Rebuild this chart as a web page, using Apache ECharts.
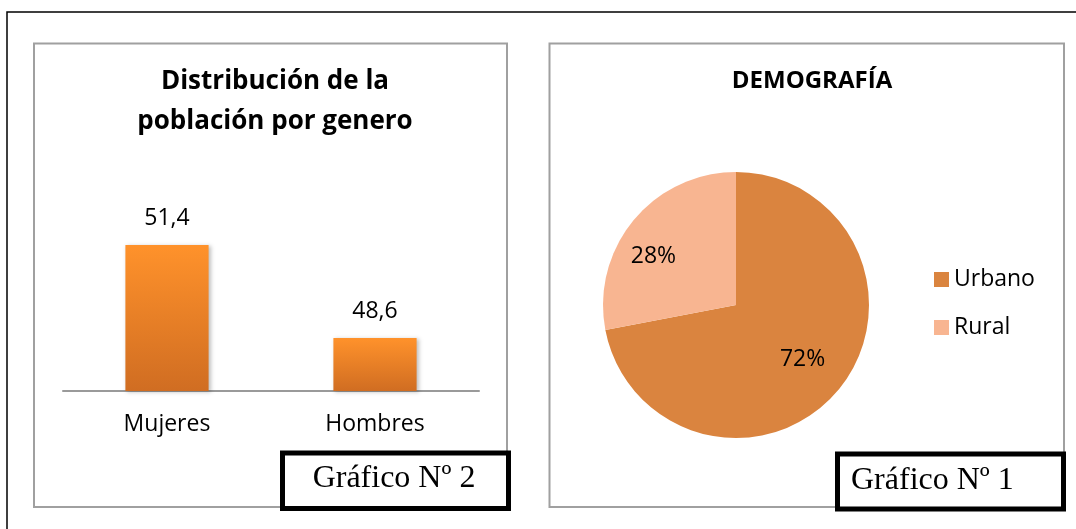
<!DOCTYPE html>
<html>
<head>
<meta charset="utf-8">
<script src="https://cdn.jsdelivr.net/npm/echarts@6/dist/echarts.min.js"></script>
<style>
  html, body { margin: 0; padding: 0; background: #fff; }
  #chart { width: 1076px; height: 529px; }
</style>
</head>
<body>
<div id="chart"></div>
<script>
// bar chart: población por genero
const generoCategorias = ['Mujeres', 'Hombres'];
const generoValores = [51.4, 48.6];

// pie chart: demografía
const zonaNombres = ['Urbano', 'Rural'];
const zonaValores = [72, 28];
const zonaColores = ['#DA843F', '#F8B591'];

const chart = echarts.init(document.getElementById('chart'));
const font = '"Open Sans", "Noto Sans", sans-serif';
const serif = '"Liberation Serif", "Times New Roman", serif';

const option = {
  animation: false,
  title: [
    {
      text: 'Distribución de la\npoblación por genero',
      left: 270,
      top: 57,
      textAlign: 'center',
      textStyle: { fontFamily: font, fontSize: 26, fontWeight: 'bold', color: '#000', lineHeight: 40 }
    },
    {
      text: 'DEMOGRAFÍA',
      left: 807,
      top: 61,
      textAlign: 'center',
      textStyle: { fontFamily: font, fontSize: 24, fontWeight: 'bold', color: '#000', lineHeight: 30 }
    }
  ],
  legend: {
    orient: 'vertical',
    left: 934,
    top: 268,
    padding: 0,
    itemWidth: 15,
    itemHeight: 15,
    itemGap: 25,
    icon: 'rect',
    data: zonaNombres,
    textStyle: { fontFamily: font, fontSize: 23, color: '#000' }
  },
  grid: { left: 63, right: 597, top: 225, bottom: 138 },
  xAxis: {
    type: 'category',
    data: generoCategorias,
    axisLine: { lineStyle: { color: '#9A9A9A', width: 2 } },
    axisTick: { show: false },
    axisLabel: { fontFamily: font, fontSize: 23, color: '#000', margin: 22 }
  },
  yAxis: {
    type: 'value',
    min: 47,
    max: 52,
    show: false
  },
  series: [
    {
      type: 'bar',
      data: generoValores,
      barWidth: '40%',
      itemStyle: {
        color: new echarts.graphic.LinearGradient(0, 0, 0, 1, [
          { offset: 0, color: '#FF922B' },
          { offset: 1, color: '#D06D22' }
        ]),
        shadowColor: 'rgba(0,0,0,0.25)',
        shadowBlur: 4,
        shadowOffsetX: 2,
        shadowOffsetY: 1
      },
      label: {
        show: true,
        position: 'top',
        distance: 15,
        fontFamily: font,
        fontSize: 23,
        color: '#000',
        formatter: p => String(p.value).replace('.', ',')
      }
    },
    {
      type: 'pie',
      center: [736, 305],
      radius: 133,
      startAngle: 90,
      clockwise: true,
      data: zonaNombres.map((n, i) => ({
        name: n,
        value: zonaValores[i],
        itemStyle: { color: zonaColores[i] },
        label: { offset: i === 0 ? [13, 10] : [-29, -4] }
      })),
      label: {
        show: true,
        position: 'inside',
        fontFamily: font,
        fontSize: 23,
        color: '#000',
        formatter: '{d}%'
      },
      labelLine: { show: false },
      emphasis: { disabled: true }
    }
  ],
  graphic: [
    // outer page frame
    { type: 'rect', shape: { x: 7, y: 12, width: 1100, height: 560 }, style: { fill: 'none', stroke: '#000', lineWidth: 1.5 }, z: -10 },
    // panel borders
    { type: 'rect', shape: { x: 34, y: 43.5, width: 473, height: 463.5 }, style: { fill: 'none', stroke: '#A0A0A0', lineWidth: 2 }, z: -5 },
    { type: 'rect', shape: { x: 549.5, y: 43.5, width: 514.5, height: 463.5 }, style: { fill: 'none', stroke: '#A0A0A0', lineWidth: 2 }, z: -5 },
    // caption boxes
    {
      type: 'group',
      z: 100,
      children: [
        { type: 'rect', shape: { x: 282.5, y: 453, width: 226, height: 55.5 }, style: { fill: '#fff', stroke: '#000', lineWidth: 5 } },
        { type: 'text', x: 394, y: 479, style: { text: 'Gráfico Nº 2', font: '32px ' + serif, fill: '#000', textAlign: 'center', textVerticalAlign: 'middle' } },
        { type: 'rect', shape: { x: 837.5, y: 454, width: 226, height: 55 }, style: { fill: '#fff', stroke: '#000', lineWidth: 5 } },
        { type: 'text', x: 851, y: 481, style: { text: 'Gráfico Nº 1', font: '32px ' + serif, fill: '#000', textAlign: 'left', textVerticalAlign: 'middle' } }
      ]
    }
  ]
};

chart.setOption(option);
</script>
</body>
</html>
